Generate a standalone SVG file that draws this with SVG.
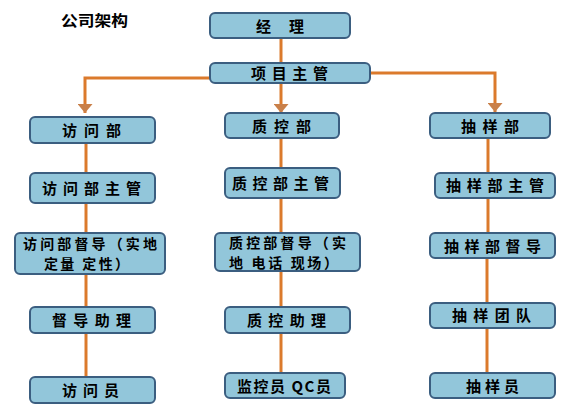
<svg xmlns="http://www.w3.org/2000/svg" width="570" height="419" viewBox="0 0 570 419">
<defs>
<style>
.box{fill:#92C6DA;stroke:#3B5E80;stroke-width:2}
.t{font-family:"Noto Sans CJK SC","Liberation Sans",sans-serif;font-weight:bold;font-size:15px;fill:#000;text-anchor:middle}
.t2{font-size:14px}
.c{fill:none;stroke:#DB7A2C;stroke-width:3}
</style>
<marker id="ah" markerUnits="userSpaceOnUse" markerWidth="9" markerHeight="15" refX="0" refY="0" orient="auto" viewBox="-9 -7.5 9 15">
<path d="M-9,-7.5 L0,0 L-9,7.5 Z" fill="#C9804A"/>
</marker>
</defs>
<rect width="570" height="419" fill="#fff"/>
<text class="t" x="94.5" y="26" textLength="67" lengthAdjust="spacingAndGlyphs">公司架构</text>
<g id="connectors">
<path class="c" d="M281,38 V63"/>
<path class="c" d="M210,78 H85 V113" marker-end="url(#ah)"/>
<path class="c" d="M281,83 V113" marker-end="url(#ah)"/>
<path class="c" d="M370,73 H495 V112" marker-end="url(#ah)"/>
<path class="c" d="M86,143 V173"/>
<path class="c" d="M86,203 V233"/>
<path class="c" d="M86,274 V307"/>
<path class="c" d="M86,333 V377"/>
<path class="c" d="M281,138 V168"/>
<path class="c" d="M281,198 V233"/>
<path class="c" d="M281,271 V307"/>
<path class="c" d="M281,333 V373"/>
<path class="c" d="M488,138 V173"/>
<path class="c" d="M488,198 V233"/>
<path class="c" d="M487,258 V303"/>
<path class="c" d="M487,328 V373"/>
</g>
<g id="n1"><rect class="box" x="210" y="13" width="140" height="25" rx="5"/><text class="t" x="280" y="31.5" textLength="48" lengthAdjust="spacing">经 理</text></g>
<g id="n2"><rect class="box" x="210" y="63" width="160" height="20" rx="5"/><text class="t" x="289.5" y="78.5" textLength="77" lengthAdjust="spacing">项目主管</text></g>
<g id="n3"><rect class="box" x="30" y="117" width="125" height="26" rx="5"/><text class="t" x="91.5" y="135.5" textLength="59" lengthAdjust="spacing">访问部</text></g>
<g id="n4"><rect class="box" x="225" y="113" width="114" height="25" rx="5"/><text class="t" x="281.5" y="131.5" textLength="59" lengthAdjust="spacing">质控部</text></g>
<g id="n5"><rect class="box" x="430" y="113" width="120" height="25" rx="5"/><text class="t" x="490" y="131.5" textLength="58" lengthAdjust="spacing">抽样部</text></g>
<g id="n6"><rect class="box" x="30" y="173" width="125" height="30" rx="5"/><text class="t" x="91.5" y="193.5" textLength="99" lengthAdjust="spacing">访问部主管</text></g>
<g id="n7"><rect class="box" x="225" y="168" width="115" height="30" rx="5"/><text class="t" x="280.5" y="188.5" textLength="97" lengthAdjust="spacing">质控部主管</text></g>
<g id="n8"><rect class="box" x="435" y="173" width="120" height="25" rx="5"/><text class="t" x="495" y="190.5" textLength="98" lengthAdjust="spacing">抽样部主管</text></g>
<g id="n9"><rect class="box" x="15" y="233" width="150" height="41" rx="5"/><text class="t t2"><tspan x="90" y="248.5" textLength="134" lengthAdjust="spacing">访问部督导（实地</tspan><tspan x="86.5" y="269" textLength="85" lengthAdjust="spacing">定量 定性）</tspan></text></g>
<g id="n10"><rect class="box" x="215" y="233" width="145" height="38" rx="5"/><text class="t t2"><tspan x="287.5" y="247.5" textLength="117" lengthAdjust="spacing">质控部督导（实</tspan><tspan x="283.5" y="268" textLength="109" lengthAdjust="spacing">地 电话 现场）</tspan></text></g>
<g id="n11"><rect class="box" x="430" y="233" width="125" height="25" rx="5"/><text class="t" x="492.5" y="251.5" textLength="97" lengthAdjust="spacing">抽样部督导</text></g>
<g id="n12"><rect class="box" x="30" y="307" width="125" height="26" rx="5"/><text class="t" x="91.5" y="325.5" textLength="79" lengthAdjust="spacing">督导助理</text></g>
<g id="n13"><rect class="box" x="225" y="307" width="125" height="26" rx="5"/><text class="t" x="286.5" y="325.5" textLength="79" lengthAdjust="spacing">质控助理</text></g>
<g id="n14"><rect class="box" x="430" y="303" width="125" height="25" rx="5"/><text class="t" x="491.5" y="320.5" textLength="79" lengthAdjust="spacing">抽样团队</text></g>
<g id="n15"><rect class="box" x="30" y="377" width="125" height="26" rx="5"/><text class="t" x="90.5" y="395.5" textLength="57" lengthAdjust="spacing">访问员</text></g>
<g id="n16"><rect class="box" x="225" y="373" width="120" height="25" rx="5"/><text class="t" x="284" y="391.5" textLength="94" lengthAdjust="spacing">监控员 QC员</text></g>
<g id="n17"><rect class="box" x="430" y="373" width="125" height="25" rx="5"/><text class="t" x="492.5" y="391.5" textLength="53" lengthAdjust="spacing">抽样员</text></g>
</svg>
